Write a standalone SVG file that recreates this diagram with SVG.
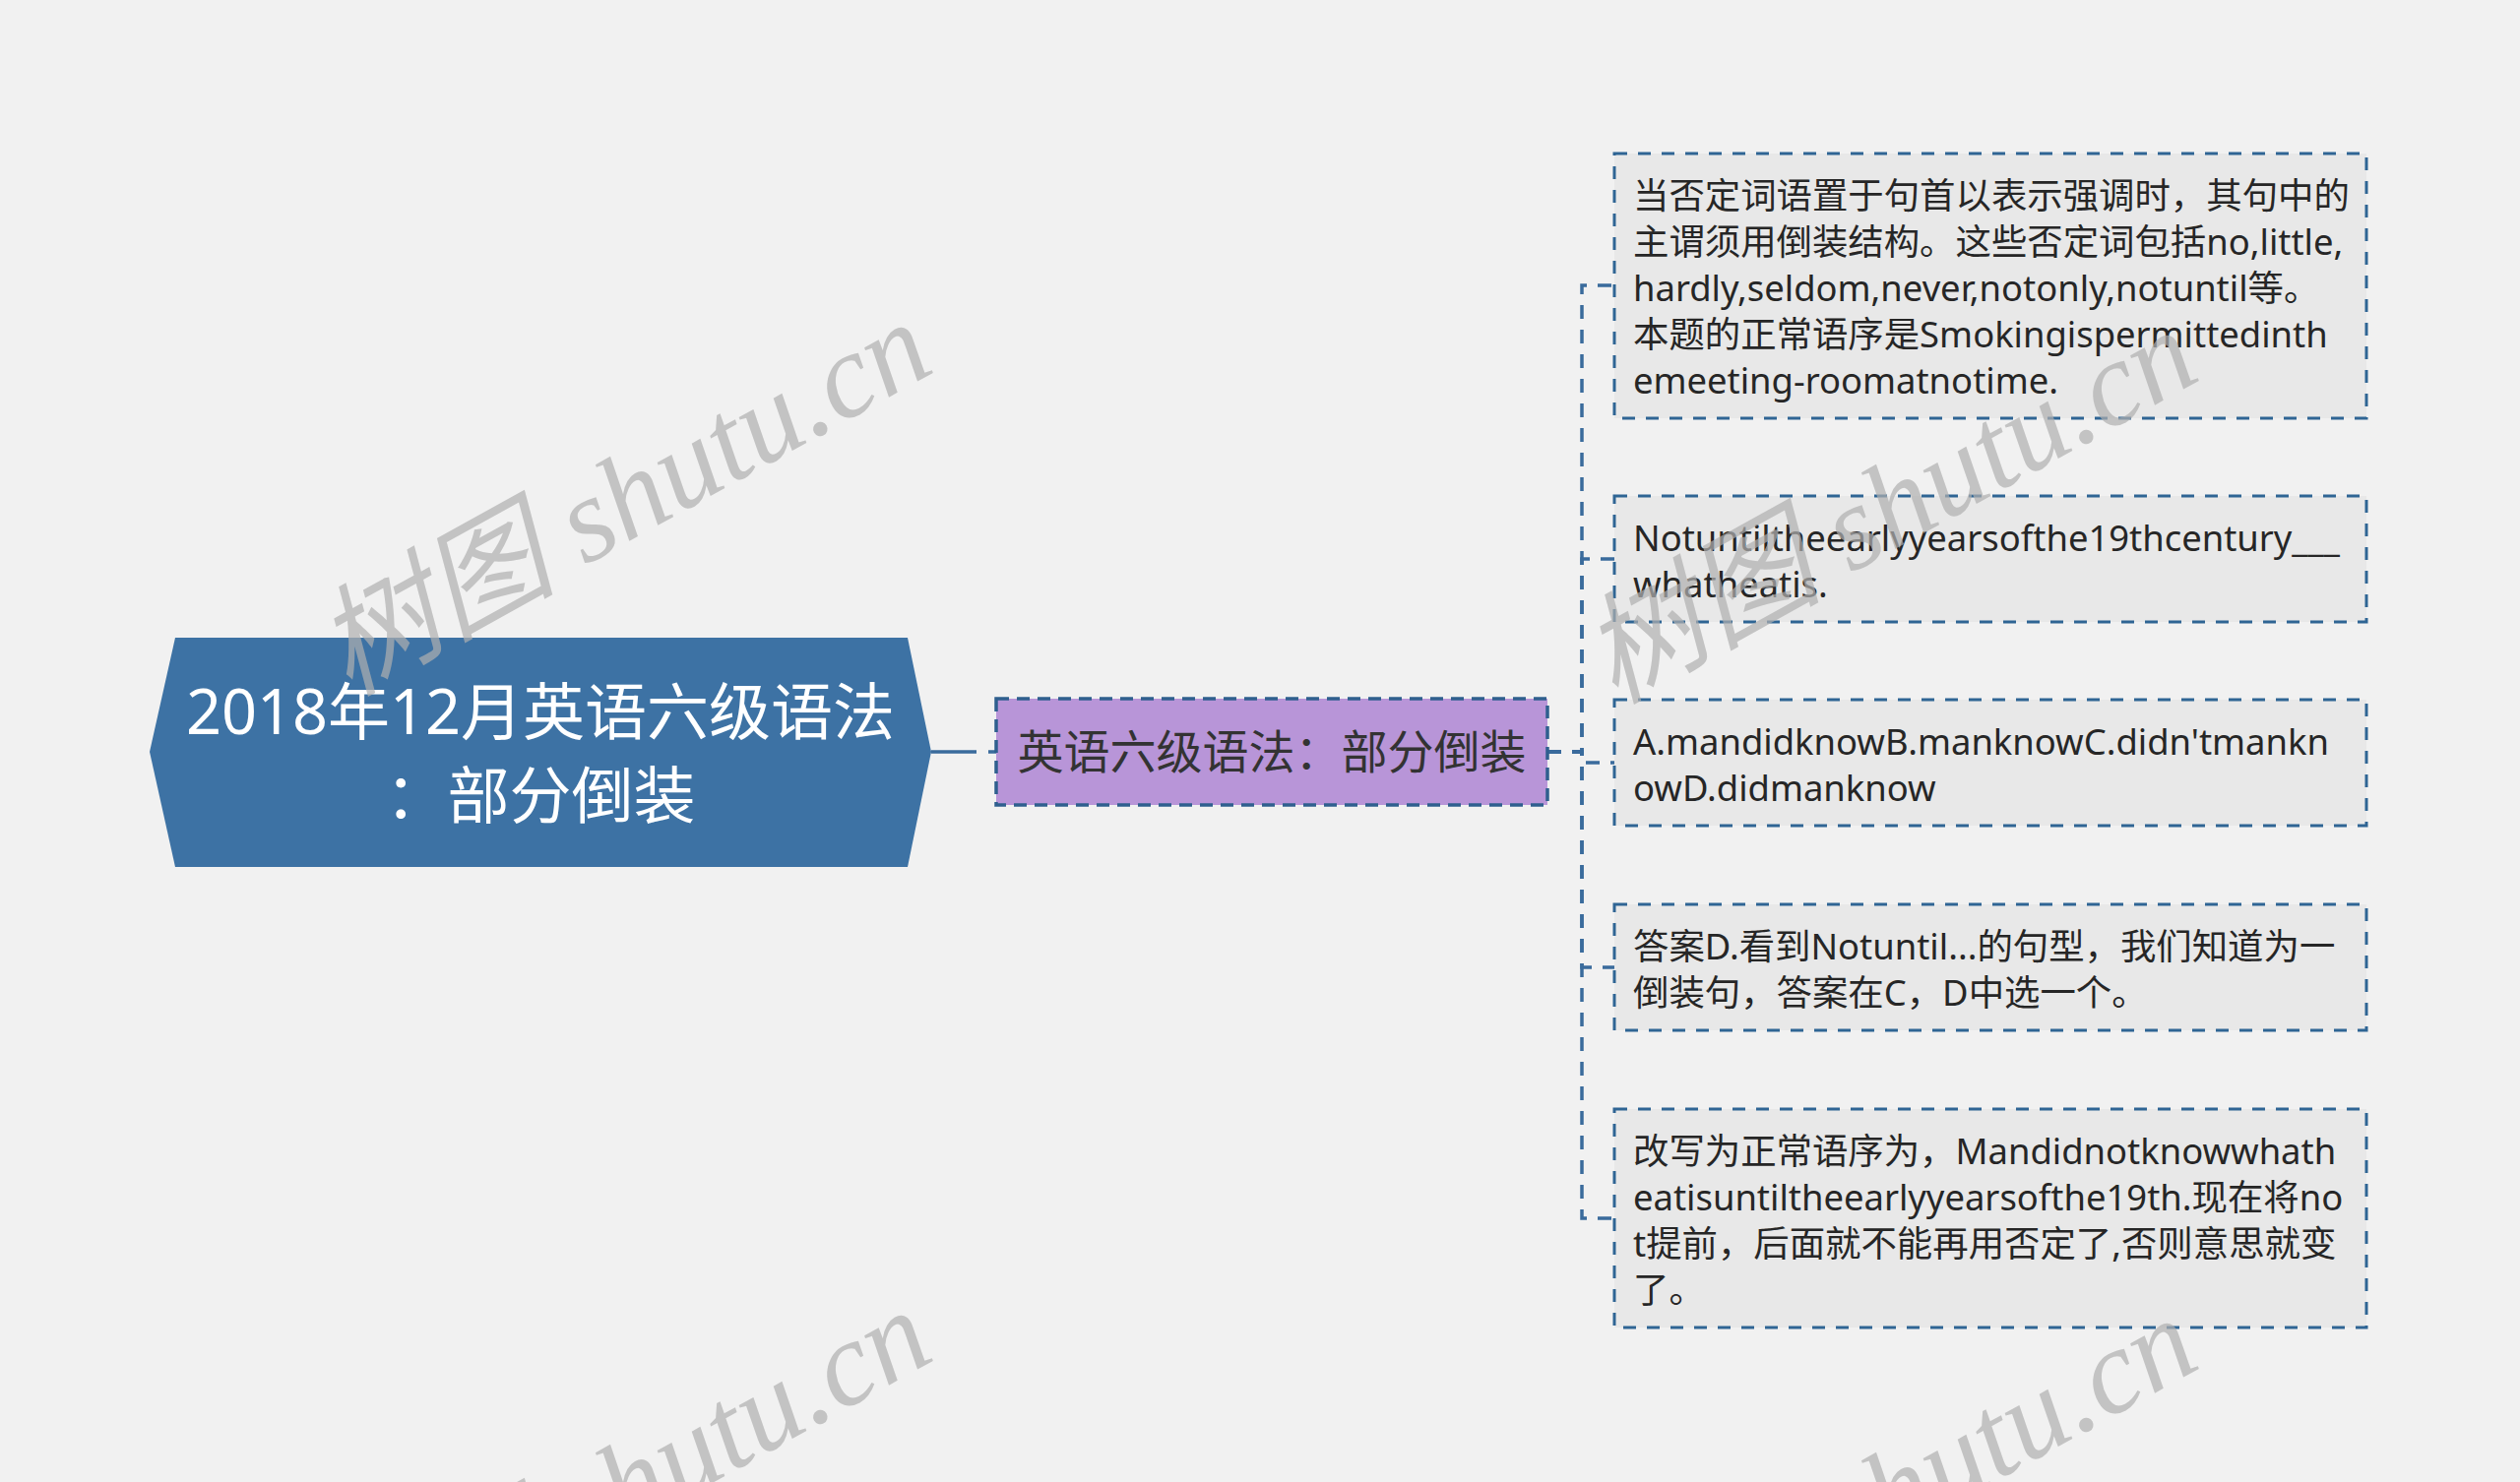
<svg xmlns="http://www.w3.org/2000/svg" width="2560" height="1506" viewBox="0 0 2560 1506">
<defs>
<style>
.bg{fill:#f1f1f1}
.root{fill:#3d72a4}
.roottxt{font-family:"Noto Sans","Noto Sans CJK SC",sans-serif;font-size:63px;fill:#ffffff;text-anchor:middle}
.sub{fill:#b895d8;stroke:#2f5f8e;stroke-width:3.5;stroke-dasharray:13 8}
.subtxt{font-family:"Noto Sans","Noto Sans CJK SC",sans-serif;font-size:47px;fill:#333333;text-anchor:middle}
.leaf{fill:#e8e8e8;stroke:#2f6594;stroke-width:3;stroke-dasharray:13 11}
.leaftxt{font-family:"Noto Sans","Noto Sans CJK SC",sans-serif;font-size:36.4px;fill:#262626}
.conn{fill:none;stroke:#3a6b9c;stroke-width:3.5}
.dash{stroke-dasharray:14 11}
.wm{font-family:"Liberation Serif","Noto Sans CJK SC",serif;font-style:italic;font-size:122px;fill:#b0b0b0;opacity:0.7}
</style>
</defs>
<rect class="bg" x="0" y="0" width="2560" height="1506"/>
<g id="connectors">
<path class="conn" d="M946,764 H1012" stroke-dasharray="46 12 100"/>
<path class="conn dash" d="M1572,764 H1607 V290 H1640"/>
<path class="conn dash" d="M1572,764 H1607 V568 H1640"/>
<path class="conn dash" d="M1572,764 H1607 V775 H1640"/>
<path class="conn dash" d="M1572,764 H1607 V983 H1640"/>
<path class="conn dash" d="M1572,764 H1607 V1238 H1640"/>
</g>
<g id="root">
<polygon class="root" points="178,648 922,648 946,764 922,881 178,881 152,764"/>
<text class="roottxt" x="549" y="746">2018年12月英语六级语法</text>
<text class="roottxt" x="549" y="831">：部分倒装</text>
</g>
<g id="sub">
<rect class="sub" x="1012" y="710" width="560" height="108"/>
<text class="subtxt" x="1292" y="781">英语六级语法：部分倒装</text>
</g>
<g id="leaf1">
<rect class="leaf" x="1640" y="156" width="764" height="269"/>
<text class="leaftxt" x="1659" y="212">当否定词语置于句首以表示强调时，其句中的</text>
<text class="leaftxt" x="1659" y="259">主谓须用倒装结构。这些否定词包括no,little,</text>
<text class="leaftxt" x="1659" y="306">hardly,seldom,never,notonly,notuntil等。</text>
<text class="leaftxt" x="1659" y="353">本题的正常语序是Smokingispermittedinth</text>
<text class="leaftxt" x="1659" y="400">emeeting-roomatnotime.</text>
</g>
<g id="leaf2">
<rect class="leaf" x="1640" y="504" width="764" height="128"/>
<text class="leaftxt" x="1659" y="560">Notuntiltheearlyyearsofthe19thcentury___</text>
<text class="leaftxt" x="1659" y="607">whatheatis.</text>
</g>
<g id="leaf3">
<rect class="leaf" x="1640" y="711" width="764" height="128"/>
<text class="leaftxt" x="1659" y="767">A.mandidknowB.manknowC.didn'tmankn</text>
<text class="leaftxt" x="1659" y="814">owD.didmanknow</text>
</g>
<g id="leaf4">
<rect class="leaf" x="1640" y="919" width="764" height="128"/>
<text class="leaftxt" x="1659" y="975">答案D.看到Notuntil...的句型，我们知道为一</text>
<text class="leaftxt" x="1659" y="1022">倒装句，答案在C，D中选一个。</text>
</g>
<g id="leaf5">
<rect class="leaf" x="1640" y="1127" width="764" height="222"/>
<text class="leaftxt" x="1659" y="1183">改写为正常语序为，Mandidnotknowwhath</text>
<text class="leaftxt" x="1659" y="1230">eatisuntiltheearlyyearsofthe19th.现在将no</text>
<text class="leaftxt" x="1659" y="1277">t提前，后面就不能再用否定了,否则意思就变</text>
<text class="leaftxt" x="1659" y="1324">了。</text>
</g>
<g id="watermarks">
<text class="wm" transform="translate(354,708) rotate(-29)">树图 shutu.cn</text>
<text class="wm" transform="translate(1640,716) rotate(-29)">树图 shutu.cn</text>
<text class="wm" transform="translate(354,1712) rotate(-29)">树图 shutu.cn</text>
<text class="wm" transform="translate(1640,1720) rotate(-29)">树图 shutu.cn</text>
</g>
</svg>
